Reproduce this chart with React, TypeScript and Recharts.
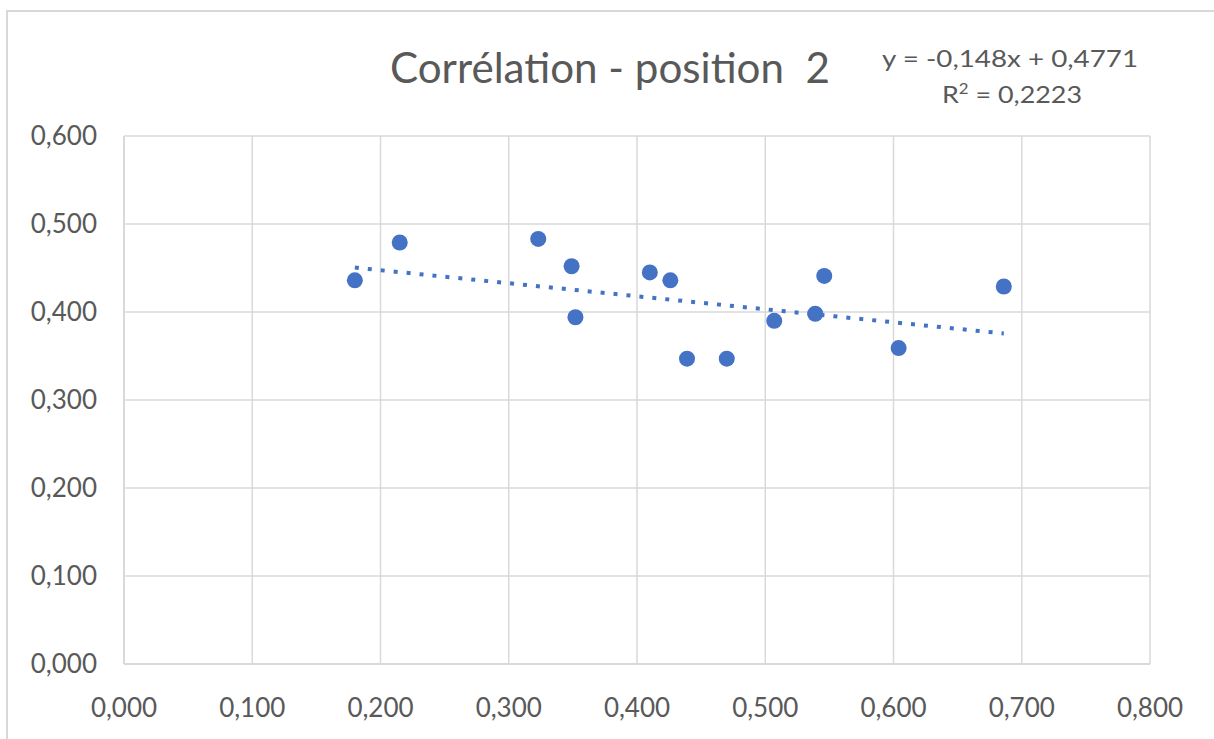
import { ScatterChart, Scatter, XAxis, YAxis, CartesianGrid, ReferenceLine } from 'recharts';

// Points
const xValues = [0.18, 0.215, 0.323, 0.349, 0.352, 0.41, 0.426, 0.439, 0.47, 0.507, 0.539, 0.546, 0.604, 0.686];
const yValues = [0.436, 0.479, 0.483, 0.452, 0.394, 0.445, 0.436, 0.347, 0.347, 0.39, 0.398, 0.441, 0.359, 0.429];

const xTicks = [0, 0.1, 0.2, 0.3, 0.4, 0.5, 0.6, 0.7, 0.8];
const yTicks = [0, 0.1, 0.2, 0.3, 0.4, 0.5, 0.6];

const slope = -0.148;
const intercept = 0.4771;
const rSquared = 0.2223;

const title = 'Corrélation - position  2';

const BLUE = '#4472C4';
const GRID = '#d9d9d9';
const TEXT = '#595959';
const FONT = 'Lato, "Open Sans", sans-serif';

const fmt = (v: number, d: number) => v.toFixed(d).replace('.', ',');

const points = xValues.map((x, i) => ({ x, y: yValues[i] }));
const xMin = Math.min(...xValues);
const xMax = Math.max(...xValues);

function Dot(props: any) {
  const { cx, cy } = props;
  if (cx == null || cy == null) return null;
  return <circle cx={cx} cy={cy} r={8} fill={BLUE} />;
}

export default function App() {
  return (
    <div style={{ position: 'absolute', left: 0, top: 0, width: 1214, height: 739, background: '#fff', overflow: 'hidden' }}>
      <div
        style={{
          position: 'absolute',
          left: 6,
          top: 10,
          width: 1400,
          height: 900,
          border: `2px solid ${GRID}`,
          boxSizing: 'border-box',
        }}
      />
      <div style={{ position: 'absolute', left: 0, top: 0 }}>
        <ScatterChart width={1214} height={739} margin={{ top: 136, right: 64, left: 0, bottom: 15 }}>
          <CartesianGrid stroke={GRID} strokeWidth={1.5} />
          <XAxis
            type="number"
            dataKey="x"
            domain={[0, 0.8]}
            ticks={xTicks}
            tickFormatter={(v: number) => fmt(v, 3)}
            axisLine={{ stroke: GRID, strokeWidth: 2 }}
            tickLine={false}
            tickSize={0}
            tickMargin={35}
            height={60}
            tick={{ fill: TEXT, fontSize: 26, fontFamily: FONT }}
            interval={0}
          />
          <YAxis
            type="number"
            dataKey="y"
            domain={[0, 0.6]}
            ticks={yTicks}
            tickFormatter={(v: number) => fmt(v, 3)}
            axisLine={{ stroke: GRID, strokeWidth: 2 }}
            tickLine={false}
            tickSize={0}
            tickMargin={27}
            width={124}
            tick={{ fill: TEXT, fontSize: 26, fontFamily: FONT }}
            interval={0}
          />
          <ReferenceLine
            segment={[
              { x: xMin, y: slope * xMin + intercept },
              { x: xMax, y: slope * xMax + intercept },
            ]}
            stroke={BLUE}
            strokeWidth={4}
            strokeDasharray="4 9"
            ifOverflow="extendDomain"
          />
          <Scatter data={points} fill={BLUE} shape={Dot} isAnimationActive={false} />
        </ScatterChart>
      </div>
      <svg width={1214} height={739} style={{ position: 'absolute', left: 0, top: 0, pointerEvents: 'none' }}>
        <text
          x={390}
          y={83}
          fontSize={42}
          fontFamily={FONT}
          fill={TEXT}
          textLength={440}
          lengthAdjust="spacingAndGlyphs"
          style={{ whiteSpace: 'pre' }}
        >
          {title}
        </text>
        <text x={1010} y={67} fontSize={24} fontFamily={FONT} fill={TEXT} textAnchor="middle" textLength={256} lengthAdjust="spacingAndGlyphs">
          {`y = ${fmt(slope, 3)}x + ${fmt(intercept, 4)}`}
        </text>
        <text x={942} y={103} fontSize={24} fontFamily={FONT} fill={TEXT} textLength={140} lengthAdjust="spacingAndGlyphs">
          R<tspan dy={-9} fontSize={15}>2</tspan>
          <tspan dy={9}>{` = ${fmt(rSquared, 4)}`}</tspan>
        </text>
      </svg>
    </div>
  );
}
